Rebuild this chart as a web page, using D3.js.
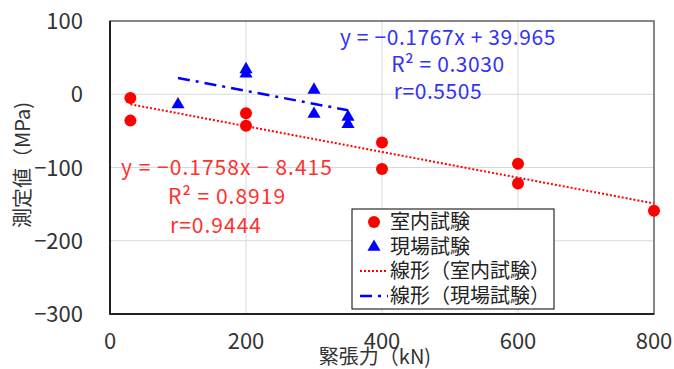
<!DOCTYPE html>
<html>
<head>
<meta charset="utf-8">
<script src="https://cdn.jsdelivr.net/npm/d3@7"></script>
<style>
  body { margin: 0; background: #fff; }
  text { font-family: "Noto Sans CJK JP", "Noto Sans", sans-serif; }
</style>
</head>
<body>
<script>
// data
var labX = [30, 30, 200, 200, 400, 400, 600, 600, 800];
var labY = [-5, -36, -26, -43, -66, -102, -95, -122, -159];
var fieldX = [100, 200, 200, 300, 300, 350, 350];
var fieldY = [-14, 34, 28, 6, -27, -31, -41];
var labFit = [-0.1758, -8.415];      // slope, intercept
var fieldFit = [-0.1767, 39.965];
var labText = ["y = −0.1758x − 8.415", "R² = 0.8919", "r=0.9444"];
var fieldText = ["y = −0.1767x + 39.965", "R² = 0.3030", "r=0.5505"];
var xTicks = [0, 200, 400, 600, 800];
var yTicks = [100, 0, -100, -200, -300];
var legendLabels = ["室内試験", "現場試験", "線形（室内試験）", "線形（現場試験）"];

var red = "#ff0000", blue = "#0000ff";

var svg = d3.select("body").append("svg")
    .attr("width", 674)
    .attr("height", 369);

var x = d3.scaleLinear().domain([0, 800]).range([110, 654]);
var y = d3.scaleLinear().domain([-300, 100]).range([314, 21]);

// grid
svg.append("g").selectAll("line.gx")
    .data(xTicks).enter().append("line")
    .attr("x1", d => x(d)).attr("x2", d => x(d))
    .attr("y1", y(100)).attr("y2", y(-300))
    .style("stroke", "#d9d9d9").style("stroke-width", 1);
svg.append("g").selectAll("line.gy")
    .data(yTicks).enter().append("line")
    .attr("x1", x(0)).attr("x2", x(800))
    .attr("y1", d => y(d)).attr("y2", d => y(d))
    .style("stroke", "#d9d9d9").style("stroke-width", 1);

// frame
svg.append("rect")
    .attr("x", x(0)).attr("y", y(100))
    .attr("width", x(800) - x(0)).attr("height", y(-300) - y(100))
    .style("fill", "none").style("stroke", "#666").style("stroke-width", 1.5);
svg.append("path")
    .attr("d", "M" + x(0) + "," + y(100) + "V" + y(-300) + "H" + x(800))
    .style("fill", "none").style("stroke", "#000").style("stroke-width", 1.5);

// tick labels
svg.append("g").selectAll("text")
    .data(yTicks).enter().append("text")
    .attr("x", 83).attr("y", d => y(d) + 8)
    .attr("text-anchor", "end")
    .style("font-size", "22px").style("fill", "#333")
    .text(d => d3.format("d")(d));
svg.append("g").selectAll("text")
    .data(xTicks).enter().append("text")
    .attr("x", d => x(d)).attr("y", 349)
    .attr("text-anchor", "middle")
    .style("font-size", "22px").style("fill", "#333")
    .text(d => d);

// axis titles
svg.append("text")
    .attr("x", 375).attr("y", 364)
    .attr("text-anchor", "middle")
    .style("font-size", "20px").style("fill", "#333")
    .text("緊張力（kN)");
svg.append("text")
    .attr("transform", "translate(30,165) rotate(-90)")
    .attr("text-anchor", "middle")
    .style("font-size", "20px").style("fill", "#333")
    .text("測定値（MPa)");

// trendlines
function fitLine(fit, x0, x1) {
    return [[x0, fit[0] * x0 + fit[1]], [x1, fit[0] * x1 + fit[1]]];
}
var line = d3.line().x(d => x(d[0])).y(d => y(d[1]));
svg.append("path")
    .attr("d", line(fitLine(labFit, d3.min(labX), d3.max(labX))))
    .style("stroke", red).style("stroke-width", 2)
    .style("stroke-dasharray", "2,2").style("fill", "none");
svg.append("path")
    .attr("d", line(fitLine(fieldFit, d3.min(fieldX), d3.max(fieldX))))
    .style("stroke", blue).style("stroke-width", 2.5)
    .style("stroke-dasharray", "12,6,3,6").style("fill", "none");

// points
svg.append("g").selectAll("circle")
    .data(labX).enter().append("circle")
    .attr("cx", d => x(d))
    .attr("cy", (d, i) => y(labY[i]))
    .attr("r", 6)
    .style("fill", red);

var tri = d3.symbol().type(d3.symbolTriangle).size(75);
svg.append("g").selectAll("path")
    .data(fieldX).enter().append("path")
    .attr("d", tri)
    .attr("transform", (d, i) => "translate(" + x(d) + "," + y(fieldY[i]) + ")")
    .style("fill", blue);

// equation labels
svg.append("g").selectAll("text")
    .data(fieldText).enter().append("text")
    .attr("x", (d, i) => [448, 448, 438][i])
    .attr("y", (d, i) => 45 + i * 27)
    .attr("text-anchor", "middle")
    .style("font-size", "21px").style("letter-spacing", "0.6px")
    .style("fill", "#3333f5")
    .text(d => d);
svg.append("g").selectAll("text")
    .data(labText).enter().append("text")
    .attr("x", (d, i) => [227, 227, 216][i])
    .attr("y", (d, i) => 175 + i * 29)
    .attr("text-anchor", "middle")
    .style("font-size", "21px").style("letter-spacing", "1px")
    .style("fill", "#ff3030")
    .text(d => d);

// legend
var lg = svg.append("g").attr("transform", "translate(352,209)");
lg.append("rect").attr("width", 202).attr("height", 100)
    .style("fill", "#fff").style("stroke", "#000").style("stroke-width", 1);
var rows = [13, 38, 62, 87];
lg.selectAll("text").data(legendLabels).enter().append("text")
    .attr("x", 38).attr("y", (d, i) => rows[i] + 7)
    .style("font-size", "20px").style("fill", "#222")
    .text(d => d);
lg.append("circle").attr("cx", 22).attr("cy", rows[0]).attr("r", 6).style("fill", red);
lg.append("path").attr("d", tri).attr("transform", "translate(22," + rows[1] + ")").style("fill", blue);
lg.append("line").attr("x1", 8).attr("x2", 36).attr("y1", rows[2]).attr("y2", rows[2])
    .style("stroke", red).style("stroke-width", 2).style("stroke-dasharray", "2,2");
lg.append("line").attr("x1", 8).attr("x2", 36).attr("y1", rows[3]).attr("y2", rows[3])
    .style("stroke", blue).style("stroke-width", 2.5).style("stroke-dasharray", "12,6,3,6");
</script>
</body>
</html>
